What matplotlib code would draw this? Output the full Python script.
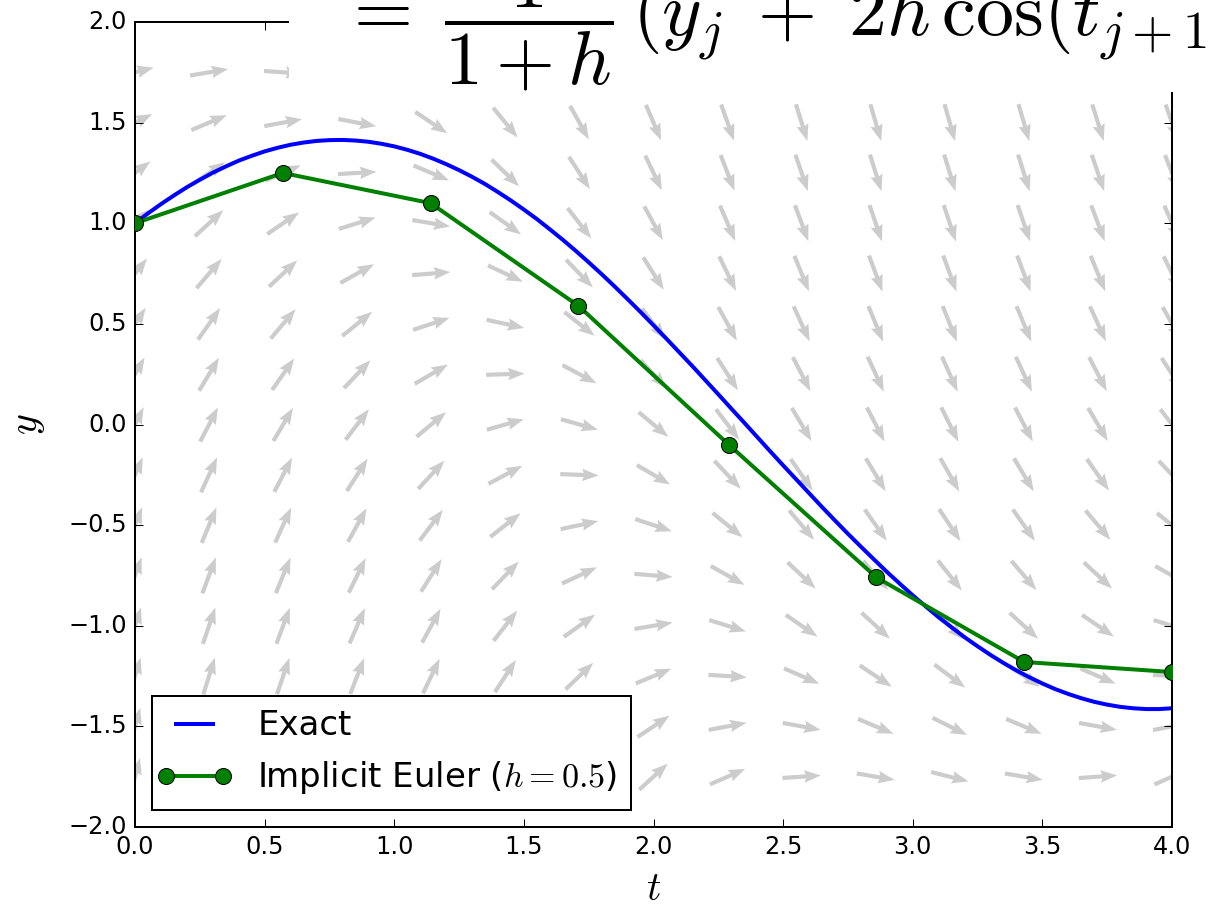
import numpy as np
import matplotlib
matplotlib.use("Agg")
import matplotlib.pyplot as plt
from matplotlib.patches import Rectangle
from matplotlib.legend_handler import HandlerLine2D

plt.style.use("classic")

# exact solution, sampled every 0.05 in t
t_exact = np.arange(81) * 0.05
y_exact = [1.000, 1.049, 1.095, 1.138, 1.179, 1.216, 1.251, 1.282, 1.311, 1.335,
           1.357, 1.375, 1.390, 1.401, 1.409, 1.413, 1.414, 1.411, 1.405, 1.395,
           1.382, 1.365, 1.345, 1.321, 1.294, 1.264, 1.231, 1.195, 1.155, 1.113,
           1.068, 1.021, 0.970, 0.918, 0.863, 0.806, 0.747, 0.686, 0.623, 0.559,
           0.493, 0.426, 0.358, 0.290, 0.220, 0.150, 0.079, 0.009, -0.062, -0.133,
           -0.203, -0.272, -0.341, -0.410, -0.477, -0.543, -0.607, -0.670, -0.732, -0.791,
           -0.849, -0.904, -0.958, -1.008, -1.057, -1.102, -1.145, -1.185, -1.222, -1.256,
           -1.287, -1.315, -1.339, -1.360, -1.378, -1.392, -1.403, -1.410, -1.414, -1.414,
           -1.410]

# implicit Euler steps
t_euler = [0.0, 0.57, 1.14, 1.71, 2.29, 2.86, 3.43, 4.0]
y_euler = [1.00, 1.25, 1.10, 0.59, -0.10, -0.76, -1.18, -1.23]

xticks = [0.0, 0.5, 1.0, 1.5, 2.0, 2.5, 3.0, 3.5, 4.0]
yticks = [-2.0, -1.5, -1.0, -0.5, 0.0, 0.5, 1.0, 1.5, 2.0]


def rhs(t, y):
    # y' = -y + 2 cos t
    return -y + 2 * np.cos(t)


W, H, DPI = 1208, 915, 144
fig = plt.figure(figsize=(W / DPI, H / DPI), dpi=DPI, facecolor="white")
ax = fig.add_axes([135 / W, 88 / H, 1037 / W, 805 / H])

# direction field, unit-length arrows
T, Y = np.meshgrid(np.linspace(0, 4, 15), np.arange(-1.75, 1.8, 0.25))
S = rhs(T, Y)
N = np.sqrt(1 + S**2)
ax.quiver(T, Y, 1 / N, S / N, color="0.8", pivot="mid", scale=27,
          width=0.004, headwidth=3, headlength=4, headaxislength=3.6,
          zorder=1)

ax.plot(t_exact, y_exact, color="b", lw=2, label="Exact", zorder=2)
euler_line, = ax.plot(t_euler, y_euler, color="g", lw=2, marker="o", ms=8,
                      mfc="g", mec="k", mew=0.5,
                      label=r"Implicit Euler ($h = 0.5$)", zorder=3)

ax.set_xlim(0, 4)
ax.set_ylim(-2, 2)
ax.set_xticks(xticks)
ax.set_yticks(yticks)
ax.set_xlabel(r"$t$", fontsize=20)
ax.set_ylabel(r"$y$", fontsize=20, labelpad=10.5)
ax.legend(loc="lower left", fontsize=17, numpoints=2, handlelength=1.7,
          handletextpad=1.0, borderpad=0.4,
          handler_map={euler_line: HandlerLine2D(marker_pad=0)})

# formula banner over the top of the plot
fig.add_artist(Rectangle((289 / W, 1 - 92 / H), 1 - 289 / W, 92 / H,
                         transform=fig.transFigure, facecolor="white",
                         edgecolor="none", zorder=5))
fig.text(340 / W, 1 - 35 / H,
         r"$=\;\dfrac{1}{1+h}\,(y_j\;+\;2h\,\cos(t_{j+1}))$",
         fontsize=38, ha="left", va="baseline", zorder=6)

fig.savefig("out.png", dpi=DPI, facecolor="white")
